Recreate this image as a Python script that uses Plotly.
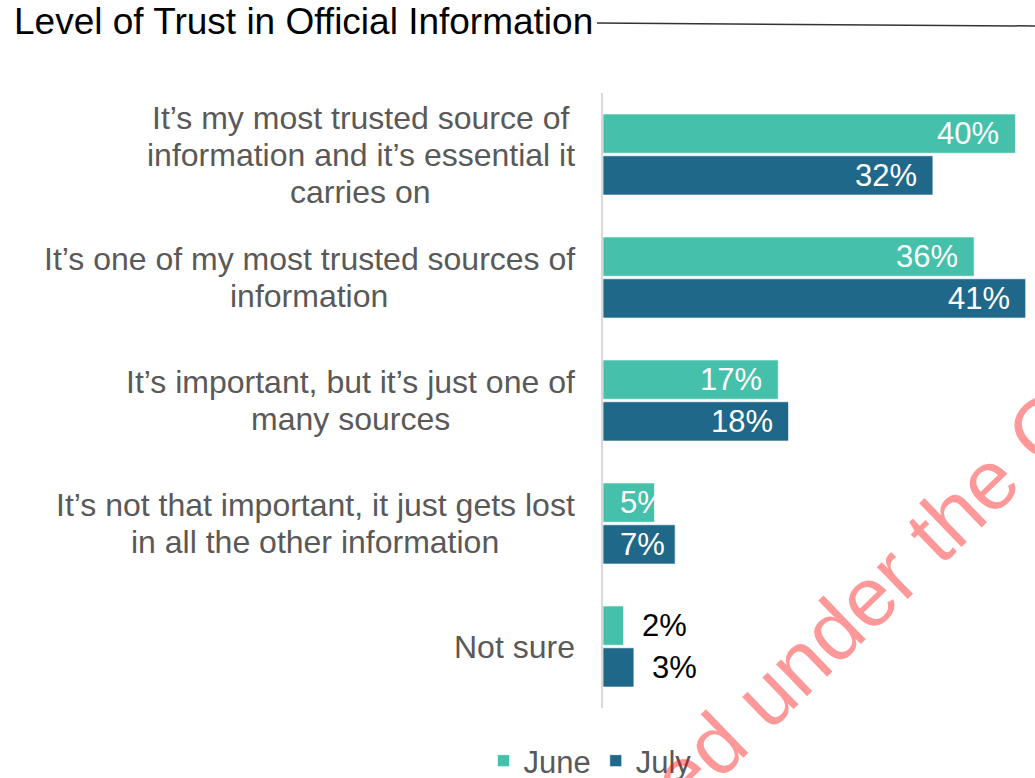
import plotly.graph_objects as go

# Survey responses: share of respondents choosing each statement
categories = [
    "It’s my most trusted source of<br>information and it’s essential it<br>carries on",
    "It’s one of my most trusted sources of<br>information",
    "It’s important, but it’s just one of<br>many sources",
    "It’s not that important, it just gets lost<br>in all the other information",
    "Not sure",
]
june = [40, 36, 17, 5, 2]
july = [32, 41, 18, 7, 3]
series_names = ["June", "July"]
series_colors = ["#45C0AA", "#1F6889"]
title_text = "Level of Trust in Official Information"
watermark_text = "ed under the C"

FONT = "Liberation Sans, Arial, sans-serif"
LABEL_SIZE = 32
positions = list(range(len(categories)))

# Advance widths (per 1000 em) of the sans-serif face, used to centre label lines
ADVANCE = {
    " ": 278, "’": 222, ",": 278, "a": 556, "b": 556, "c": 500, "d": 556, "e": 556,
    "f": 278, "g": 556, "h": 556, "i": 222, "j": 222, "k": 500, "l": 222, "m": 833,
    "n": 556, "o": 556, "p": 556, "r": 333, "s": 500, "t": 278, "u": 556, "v": 500,
    "w": 722, "y": 500, "I": 278, "N": 722,
}


def text_width(s, size):
    return sum(ADVANCE.get(ch, 556) for ch in s) * size / 1000


fig = go.Figure()
for name, vals, color in zip(series_names, [june, july], series_colors):
    fig.add_trace(go.Bar(
        y=positions, x=vals, name=name, orientation="h",
        marker=dict(color=color, line=dict(color="rgba(255,255,255,0.7)", width=1)),
        hoverinfo="skip",
    ))

# Category labels: each line centred within its block, block right-aligned to the axis
LINE_STEP = 37
RIGHT_GAP = 28
annotations = []
for i, label in enumerate(categories):
    lines = label.split("<br>")
    n = len(lines)
    block_w = max(text_width(s, LABEL_SIZE) for s in lines)
    for k, line in enumerate(lines):
        annotations.append(dict(
            xref="paper", x=0, xanchor="center", xshift=-RIGHT_GAP - block_w / 2,
            yref="y", y=i, yanchor="middle",
            yshift=((n - 1) / 2 - k) * LINE_STEP,
            text=line, showarrow=False,
            font=dict(family=FONT, size=LABEL_SIZE, color="#595959"),
        ))

# Value labels: inside the bar end for long bars, after the bar for tiny ones
half_slot = 0.17
for offset, vals in zip([-half_slot, half_slot], [june, july]):
    for i, v in enumerate(vals):
        common = dict(yref="y", y=i + offset, yanchor="middle", showarrow=False,
                      text=f"{v}%")
        if v >= 10:
            annotations.append(dict(common, xref="x", x=v, xanchor="right", xshift=-14,
                                    font=dict(family=FONT, size=31, color="white")))
        elif v >= 4:
            annotations.append(dict(common, xref="x", x=0, xanchor="left", xshift=15,
                                    font=dict(family=FONT, size=31, color="white")))
        else:
            annotations.append(dict(common, xref="x", x=v, xanchor="left", xshift=16,
                                    font=dict(family=FONT, size=31, color="black")))

# Diagonal stamp across the lower right
annotations.append(dict(
    xref="paper", yref="paper", x=0.606, y=-0.198,
    text=watermark_text, textangle=-44, showarrow=False,
    font=dict(family=FONT, size=84, color="rgba(255,0,0,0.4)"),
))

fig.update_layout(
    width=1035, height=778,
    margin=dict(l=603, r=0, t=93, b=70),
    paper_bgcolor="white", plot_bgcolor="white",
    barmode="group", bargap=0.32, bargroupgap=0.06,
    title=dict(
        text=title_text, x=14 / 1035, xanchor="left",
        yref="container", y=1 - 21 / 778, yanchor="middle",
        font=dict(family=FONT, size=37, color="black"),
    ),
    xaxis=dict(range=[0, 41.9], visible=False, fixedrange=True),
    yaxis=dict(
        range=[len(categories) - 0.5, -0.5], showticklabels=False, ticks="",
        showgrid=False, zeroline=False, showline=True, linecolor="#D9D9D9",
        linewidth=2, fixedrange=True,
    ),
    legend=dict(
        orientation="h", xref="container", x=590 / 1035, xanchor="center",
        yref="container", y=17 / 778, yanchor="middle",
        font=dict(family=FONT, size=31, color="#595959"),
        itemclick=False, itemdoubleclick=False,
    ),
    annotations=annotations,
    shapes=[dict(
        type="line", xref="paper", yref="paper",
        x0=(597 - 603) / 432, y0=(708 - 23) / 615,
        x1=1.0, y1=(708 - 26) / 615,
        line=dict(color="#333333", width=1.5),
    )],
)

fig.write_html("out.html")
